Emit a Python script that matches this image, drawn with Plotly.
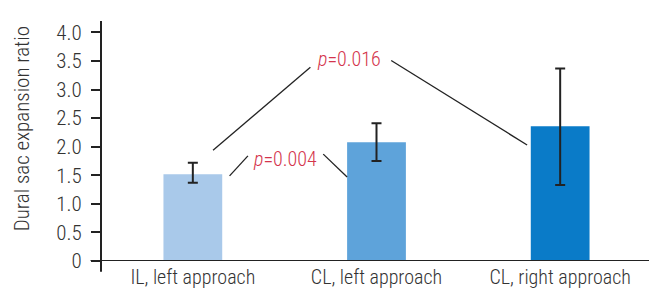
import plotly.graph_objects as go

categories = ["IL, left approach", "CL, left approach", "CL, right approach"]
means = [1.52, 2.08, 2.36]
err_plus = [0.20, 0.33, 1.01]
err_minus = [0.15, 0.33, 1.03]
bar_colors = ["#a9c9ea", "#5ea3da", "#0a7bc8"]

y_ticks = [0, 0.5, 1.0, 1.5, 2.0, 2.5, 3.0, 3.5, 4.0]
y_tick_text = ["0", "0.5", "1.0", "1.5", "2.0", "2.5", "3.0", "3.5", "4.0"]
y_title = "Dural sac expansion ratio"

# significance annotations: label, label position, connector segments
p_labels = ["<i>p</i>=0.016", "<i>p</i>=0.004"]
p_label_pos = [(0.85, 3.53), (0.50, 1.78)]
p_segments = [
    [(0.11, 1.94, 0.64, 3.39), (1.08, 3.51, 1.82, 2.03)],
    [(0.20, 1.49, 0.30, 1.84), (0.71, 1.87, 0.84, 1.47)],
]

FONT = "Liberation Sans Narrow, Roboto Condensed, Arial Narrow, Roboto, sans-serif"
AXIS_COLOR = "#222222"
TEXT_COLOR = "#333333"
RED = "#d4344c"

fig = go.Figure()
fig.add_trace(go.Bar(
    x=categories, y=means,
    marker=dict(color=bar_colors, line=dict(width=0)),
    width=0.32,
    error_y=dict(type="data", symmetric=False, array=err_plus, arrayminus=err_minus,
                 color=AXIS_COLOR, thickness=2, width=5),
    showlegend=False,
))

shapes = []
for segs in p_segments:
    for (x0, y0, x1, y1) in segs:
        shapes.append(dict(type="line", xref="x", yref="y", x0=x0, y0=y0, x1=x1, y1=y1,
                           line=dict(color=AXIS_COLOR, width=1.3)))
# crossing axis lines
shapes.append(dict(type="line", xref="paper", yref="y", x0=-0.019, x1=1.0, y0=0, y1=0,
                   line=dict(color=AXIS_COLOR, width=2)))
shapes.append(dict(type="line", xref="paper", yref="paper", x0=0, x1=0, y0=-0.045, y1=1.0,
                   line=dict(color=AXIS_COLOR, width=2)))

annotations = []
for lbl, (ax, ay) in zip(p_labels, p_label_pos):
    annotations.append(dict(x=ax, y=ay, xref="x", yref="y", text=lbl, showarrow=False,
                            font=dict(family=FONT, size=20, color=RED, weight=300)))
annotations.append(dict(x=-0.143, y=0.55, xref="paper", yref="paper", text=y_title,
                        textangle=-90, showarrow=False, xanchor="center", yanchor="middle",
                        font=dict(family=FONT, size=21, color=TEXT_COLOR, weight=300)))

fig.update_layout(
    width=657, height=299,
    margin=dict(l=93, r=13, t=13, b=46),
    paper_bgcolor="white", plot_bgcolor="white",
    font=dict(family=FONT, size=20, color=TEXT_COLOR, weight=300),
    shapes=shapes, annotations=annotations,
    xaxis=dict(range=[-0.5, 2.5], showline=False, showgrid=False, zeroline=False,
               ticks="", ticklabelstandoff=2,
               tickfont=dict(size=20, color=TEXT_COLOR, weight=300)),
    yaxis=dict(range=[0, 4.2], showline=False, showgrid=False, zeroline=False,
               tickmode="array", tickvals=y_ticks, ticktext=y_tick_text,
               ticks="outside", ticklen=9, tickwidth=2, tickcolor=AXIS_COLOR,
               ticklabelstandoff=5,
               tickfont=dict(size=21, color=TEXT_COLOR, weight=300)),
)

fig.write_html("out.html")
